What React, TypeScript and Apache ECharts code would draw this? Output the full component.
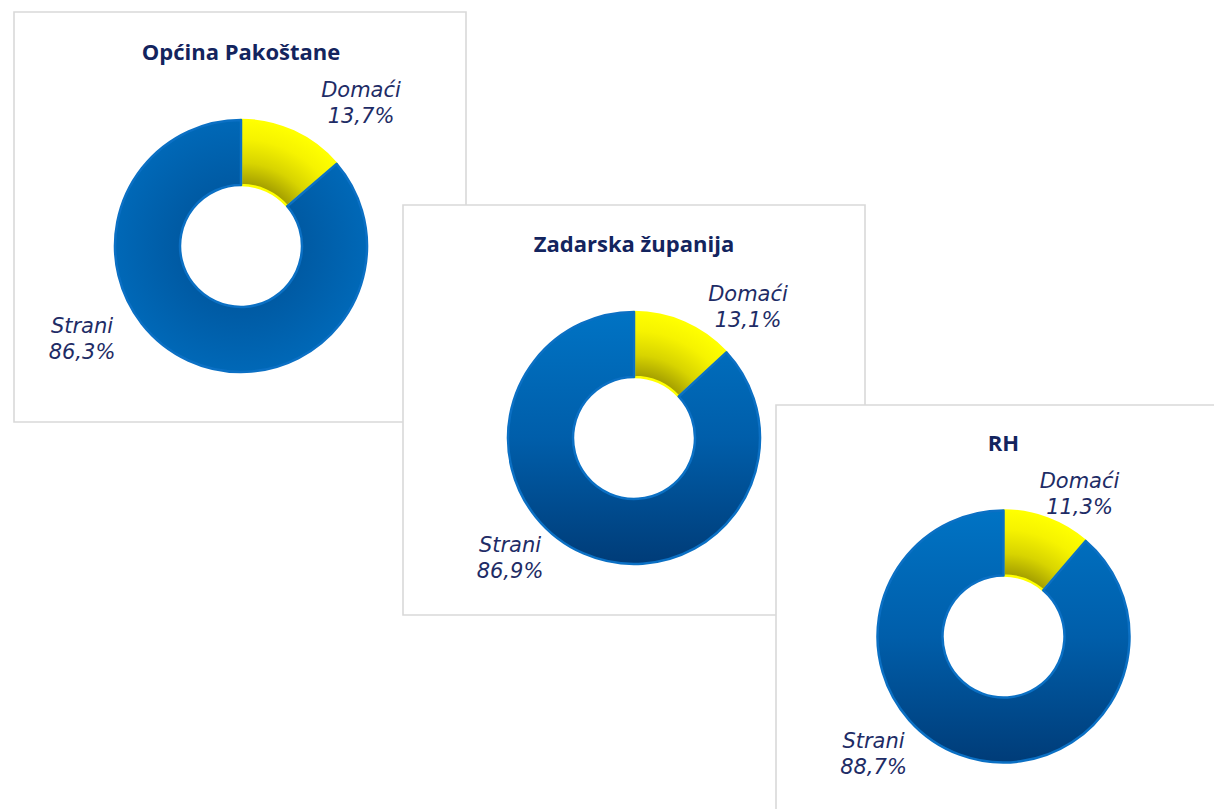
import React, { useEffect, useRef } from "react";
import * as echarts from "echarts";

// ---- data ----
const categories = ["Domaći", "Strani"];
const titles = ["Općina Pakoštane", "Zadarska županija", "RH"];
const domaci = [13.7, 13.1, 11.3];
const strani = [86.3, 86.9, 88.7];

// ---- layout (pixels) ----
const W = 1214;
const H = 809;
const panels = [
  { x: 14, y: 12, w: 452, h: 410 },
  { x: 403, y: 205, w: 462, h: 410 },
  { x: 776, y: 405, w: 460, h: 420 },
];
const centers = [
  [241, 246],
  [634, 438],
  [1003.5, 636.5],
];
const R_OUT = 126;
const R_IN = 61;
// label block offsets from donut centre: [Domaći, Strani]
const labelOffsets = [
  [[120, -143], [-159, 93]],
  [[114, -131], [-124, 120]],
  [[76, -143], [-130, 117]],
];

const NAVY_TITLE = "#13245E";
const NAVY_LABEL = "#1E2C66";

const fmt = (v: number) => v.toFixed(1).replace(".", ",") + "%";

export default function App() {
  const ref = useRef<HTMLDivElement>(null);

  useEffect(() => {
    if (!ref.current) return;
    const chart = echarts.init(ref.current, undefined, { renderer: "svg" });

    const series = titles.map((_, i) => {
      const [cx, cy] = centers[i];
      const yellow = new echarts.graphic.RadialGradient(
        cx,
        cy,
        R_OUT,
        [
          { offset: R_IN / R_OUT, color: "#A29D00" },
          { offset: 0.66, color: "#D8D400" },
          { offset: 0.85, color: "#F6F300" },
          { offset: 1, color: "#FFFF00" },
        ],
        true
      );
      const blue =
        i === 0
          ? new echarts.graphic.RadialGradient(
              cx,
              cy,
              R_OUT,
              [
                { offset: R_IN / R_OUT, color: "#005AA3" },
                { offset: 1, color: "#0068B7" },
              ],
              true
            )
          : new echarts.graphic.LinearGradient(0, 0, 0, 1, [
              { offset: 0, color: "#0073C4" },
              { offset: 0.5, color: "#005EAA" },
              { offset: 1, color: "#003C78" },
            ]);
      return {
        type: "pie",
        z: 3,
        silent: true,
        center: [cx, cy],
        radius: [R_IN, R_OUT],
        startAngle: 90,
        clockwise: true,
        avoidLabelOverlap: false,
        label: {
          show: true,
          position: "outside",
          formatter: (p: any) => `${p.name}\n${fmt(p.value)}`,
          fontFamily: "DejaVu Sans",
          fontStyle: "italic",
          fontSize: 21,
          lineHeight: 26,
          color: NAVY_LABEL,
          align: "center",
        },
        labelLine: { show: false },
        labelLayout: (params: any) => {
          const off = labelOffsets[i][params.dataIndex];
          return {
            x: cx + off[0],
            y: cy + off[1],
            align: "center",
            verticalAlign: "middle",
          };
        },
        emphasis: { disabled: true },
        data: [
          {
            name: categories[0],
            value: domaci[i],
            itemStyle: { color: yellow, borderColor: "#FFFF00", borderWidth: 2.5 },
          },
          {
            name: categories[1],
            value: strani[i],
            itemStyle: { color: blue, borderColor: "#0B70C4", borderWidth: 2.5 },
          },
        ],
      };
    });

    const graphics: any[] = [];
    panels.forEach((p, i) => {
      graphics.push({
        type: "rect",
        z: 0,
        z2: i + 1,
        shape: { x: p.x, y: p.y, width: p.w, height: p.h },
        style: { fill: "#FFFFFF", stroke: "#D9D9D9", lineWidth: 1.6 },
        silent: true,
      });
    });
    titles.forEach((t, i) => {
      const [cx, cy] = centers[i];
      graphics.push({
        type: "text",
        z: 5,
        x: cx,
        y: cy - 195,
        style: {
          text: t,
          align: "center",
          verticalAlign: "middle",
          fontFamily: "Open Sans",
          fontWeight: "bold",
          fontSize: 22,
          fill: NAVY_TITLE,
        },
        silent: true,
      });
    });

    chart.setOption({
      animation: false,
      backgroundColor: "#FFFFFF",
      graphic: graphics,
      series,
    });

    return () => chart.dispose();
  }, []);

  return (
    <div
      ref={ref}
      style={{ position: "absolute", left: 0, top: 0, width: W, height: H }}
    />
  );
}
